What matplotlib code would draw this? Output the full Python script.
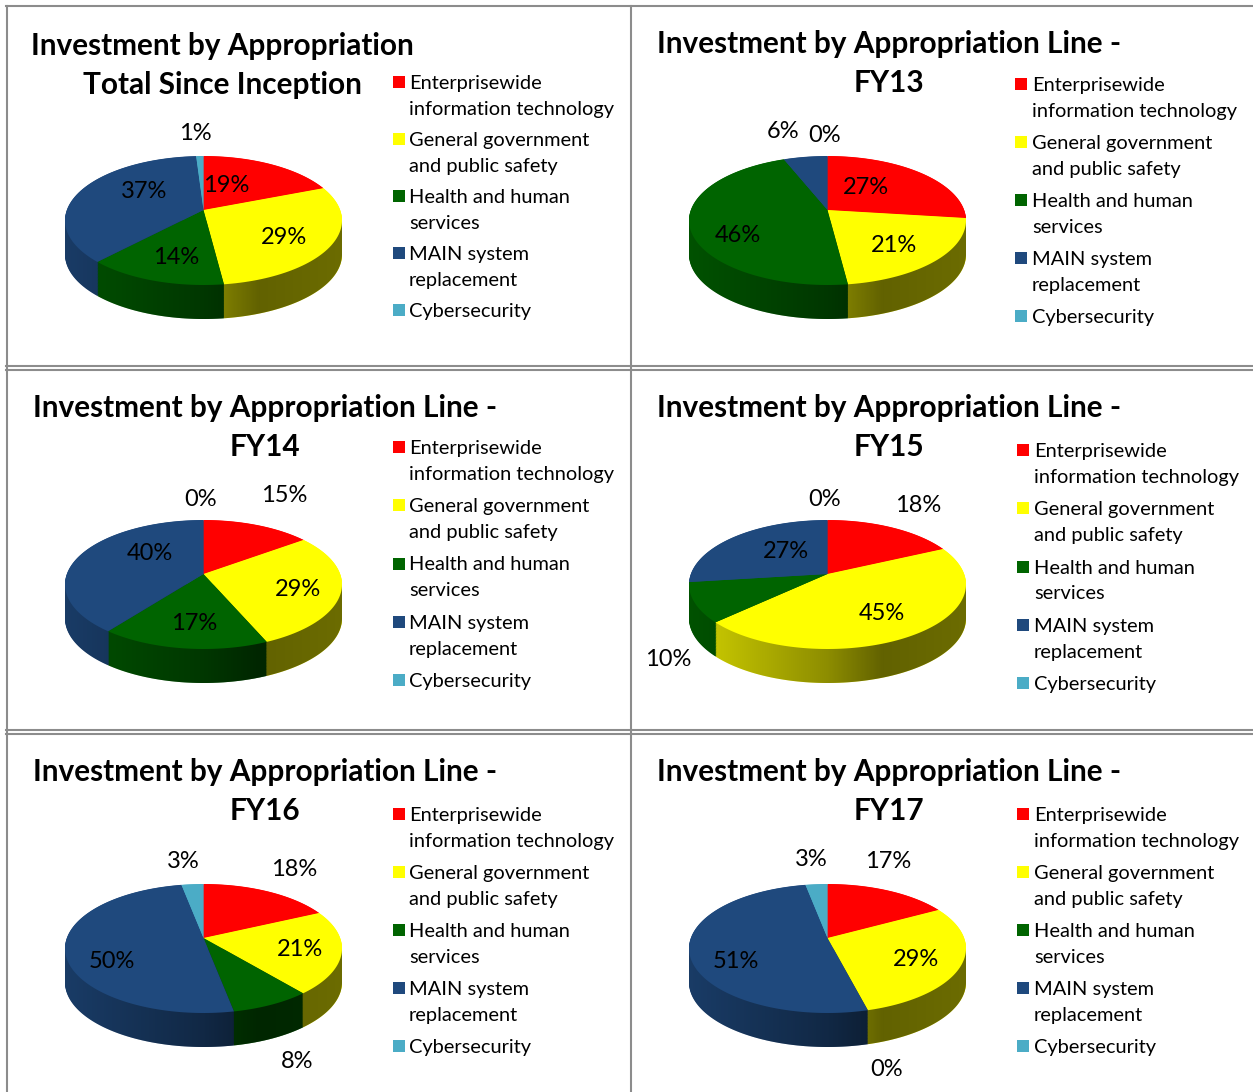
#!/usr/bin/env python3
import numpy as np
from matplotlib import pyplot as plt
from matplotlib.patches import Polygon, Rectangle
from matplotlib.path import Path
from matplotlib.transforms import Affine2D, Transform

plt.rcParams['font.family'] = ['Lato', 'DejaVu Sans']

categories = ['Enterprisewide\ninformation technology', 'General government\nand public safety',
              'Health and human\nservices', 'MAIN system\nreplacement', 'Cybersecurity']
colors = ['#ff0000', '#ffff00', '#006400', '#1f497d', '#4bacc6']

titles = [('Investment by Appropriation', 'Total Since Inception'),
          ('Investment by Appropriation Line -', 'FY13'),
          ('Investment by Appropriation Line -', 'FY14'),
          ('Investment by Appropriation Line -', 'FY15'),
          ('Investment by Appropriation Line -', 'FY16'),
          ('Investment by Appropriation Line -', 'FY17')]

total = [19, 29, 14, 37, 1]
fy13 = [27, 21, 46, 6, 0]
fy14 = [15, 29, 17, 40, 0]
fy15 = [18, 45, 10, 27, 0]
fy16 = [18, 21, 8, 50, 3]
fy17 = [17, 29, 0, 51, 3]
shares = [total, fy13, fy14, fy15, fy16, fy17]

# layout, everything in pixels of the 1253x1092 picture
W, H = 1253, 1092
TOP, BOTTOM, RX, DEPTH = 54, 75, 138.5, 34
apexes = [(203.5, 210), (827.5, 210), (203.5, 574), (827.5, 574), (203.5, 938), (827.5, 938)]
title_pos = [(222, 46), (889, 44), (265, 408), (889, 408), (265, 772), (889, 772)]
# swatch x, text x, first entry y, entry pitch
legend_pos = [(399, 409, 82, 57), (1021, 1032, 84, 58), (399, 409, 447, 58.25),
              (1023, 1034, 450, 58.25), (399, 409, 814, 58), (1023, 1034, 814, 58)]
label_pos = [
    [(226, 185), (284, 237), (176, 257), (144, 191), (195, 133)],
    [(866, 187), (894, 245), (738, 235), (783, 131), (825, 135)],
    [(284, 495), (298, 589), (194, 623), (150, 553), (201, 499)],
    [(918, 505), (882, 613), (668, 659), (786, 551), (825, 499)],
    [(294, 869), (300, 949), (297, 1061), (112, 961), (183, 861)],
    [(888, 861), (916, 959), (887, 1069), (736, 961), (811, 859)],
]

# tilt of the pie: unit circle to pixels around the apex
C = (BOTTOM - TOP) / (BOTTOM + TOP)
A = TOP * (1 + C)
D = RX * np.sqrt(1 - C ** 2)


class Tilt(Transform):
    input_dims = output_dims = 2

    def transform_non_affine(self, xy):
        xy = np.asarray(xy)
        w = 1 + C * xy[:, 1]
        return np.column_stack([D * xy[:, 0] / w, A * xy[:, 1] / w])

    def transform_path_non_affine(self, path):
        # flatten the wedge first, bezier control points do not survive the tilt
        polys = path.transformed(Affine2D().scale(1000)).to_polygons(closed_only=True)
        if not polys or len(polys[0]) < 3:
            return Path(self.transform_non_affine(path.vertices), path.codes)
        return Path(self.transform_non_affine(polys[0] / 1000), closed=True)


fig = plt.figure(figsize=(W / 100, H / 100), dpi=100)

# side wall shading, brightness against x position on the pie
shade_x = np.linspace(-1.02, 1.02, 256)
shade = np.interp(shade_x, [-1.02, 0, 0.4, 1.02], [0.82, 0.55, 0.38, 0.42])
shade_rgba = np.zeros((1, 256, 4))
shade_rgba[0, :, 3] = 1 - shade

t0 = np.arcsin(C)
arc = np.linspace(np.pi + t0, 2 * np.pi - t0, 200)
rim = Tilt().transform_non_affine(np.column_stack([np.cos(arc), np.sin(arc)]))

for values, (cx, cy) in zip(shares, apexes):
    xr = RX * 1.02
    ytop, ybot = TOP + 2, -(BOTTOM + DEPTH + 2)
    ax = fig.add_axes([(cx - xr) / W, 1 - (cy - ybot) / H, 2 * xr / W, (ytop - ybot) / H])
    for k in np.arange(DEPTH, 0, -0.75):
        wedges, _ = ax.pie(values, colors=colors, startangle=90, counterclock=False,
                           wedgeprops={'linewidth': 0, 'zorder': 1})
        for w in wedges:
            w.set_transform(Tilt() + Affine2D().translate(0, -k) + ax.transData)
    im = ax.imshow(shade_rgba, extent=[-xr, xr, ybot, ytop], aspect='auto', zorder=2)
    wall = Polygon(np.vstack([rim[0], rim - [0, DEPTH], rim[-1]]), closed=True, transform=ax.transData,
                   facecolor='none', edgecolor='none')
    im.set_clip_path(wall)
    wedges, _ = ax.pie(values, colors=colors, startangle=90, counterclock=False,
                       wedgeprops={'linewidth': 0, 'zorder': 3})
    for w in wedges:
        w.set_transform(Tilt() + ax.transData)
    ax.set_aspect('auto')
    ax.set_xlim(-xr, xr)
    ax.set_ylim(ybot, ytop)
    ax.axis('off')

# overlay for frames and text
ov = fig.add_axes([0, 0, 1, 1], facecolor='none')
ov.set_xlim(0, W)
ov.set_ylim(H, 0)
ov.axis('off')

for y in [6, 366, 370, 730, 734]:
    ov.plot([6, W], [y, y], color='#8c8c8c', lw=1.5)
for x in [7, 631]:
    ov.plot([x, x], [6, H], color='#8c8c8c', lw=1.5)

for (line1, line2), (tx, ty) in zip(titles, title_pos):
    ov.text(tx, ty, line1, ha='center', va='center', fontsize=21.4, fontweight='bold', color='black')
    ov.text(tx, ty + 39, line2, ha='center', va='center', fontsize=21.4, fontweight='bold', color='black')

for (sx, lx, ly, pitch) in legend_pos:
    for i, (name, c) in enumerate(zip(categories, colors)):
        y = ly + i * pitch
        ov.add_patch(Rectangle((sx - 6, y - 6), 12, 12, facecolor=c, edgecolor='none'))
        ov.text(lx, y - 7, name, ha='left', va='top', fontsize=14.4, linespacing=1.63, color='black')

for values, positions in zip(shares, label_pos):
    for v, (px, py) in zip(values, positions):
        ov.text(px, py + 1, f'{v}%', ha='center', va='center', fontsize=17, color='black')

fig.savefig('out.png', dpi=100)
